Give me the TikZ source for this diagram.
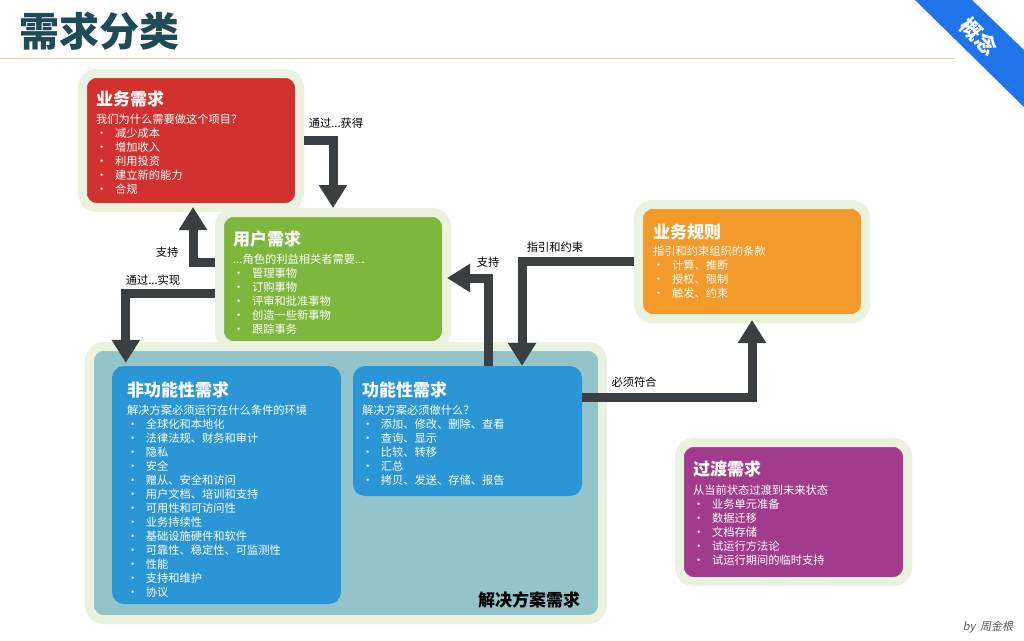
\documentclass[tikz,border=0pt]{standalone}
\usepackage{fontspec}
\setmainfont{Noto Sans CJK SC}
\newfontfamily\byfont[FakeSlant=0.2]{Noto Sans CJK SC}
\usetikzlibrary{positioning,arrows.meta}
\definecolor{halo}{HTML}{EBF2DF}
\definecolor{bizred}{HTML}{D2312F}
\definecolor{usergreen}{HTML}{7DB83C}
\definecolor{ruleorange}{HTML}{F39A2B}
\definecolor{transpurple}{HTML}{A33B8C}
\definecolor{solteal}{HTML}{93C3CB}
\definecolor{reqblue}{HTML}{2B96D5}
\definecolor{arrowgray}{HTML}{3C3F42}
\definecolor{headteal}{HTML}{1F4B58}
\definecolor{ruleline}{HTML}{D8D5A6}
\definecolor{ribbon}{HTML}{1E74E8}
\newcommand{\itm}{\makebox[19pt][l]{\textbullet}}
\tikzset{
card/.style={rounded corners=14pt,draw=halo,line width=9pt},
req/.style={rounded corners=12pt,fill=reqblue},
ttl/.style={inner sep=0pt,text=white,font=\fontsize{17}{17}\selectfont\bfseries},
txt/.style={inner sep=0pt,text=white,align=left,font=\fontsize{11.25}{14}\selectfont},
lbl/.style={inner sep=0pt,font=\fontsize{11.25}{14}\selectfont},
flow/.style={draw=arrowgray,line width=9pt,-{Triangle[width=27pt,length=23pt]}}
}
\begin{document}
\begin{tikzpicture}[x=1pt,y=-1pt]
\useasboundingbox[fill=white] (0,0) rectangle (1024,640);
\node[anchor=west,inner sep=0pt,text=headteal,font=\fontsize{40}{40}\selectfont\bfseries] (head) at (19,31) {需求分类};
\draw[ruleline,line width=1pt] (0,58) -- (955,58);
\fill[ribbon] (915,0) -- (972,0) -- (1024,50) -- (1024,107) -- cycle;
\node[inner sep=0pt,rotate=-45,text=white,font=\fontsize{21}{21}\selectfont\bfseries] (tag) at (979,37) {概念};
\node[card,fill=solteal,minimum width=513pt,minimum height=273pt] (sol) at (346,483) {};
\node[card,fill=bizred,minimum width=217pt,minimum height=134pt] (biz) at (191,140.5) {};
\node[card,fill=usergreen,minimum width=227pt,minimum height=133pt] (user) at (333,279) {};
\node[card,fill=ruleorange,minimum width=227pt,minimum height=114pt] (rule) at (752,261.5) {};
\node[card,fill=transpurple,minimum width=228pt,minimum height=139pt] (trans) at (793.5,512) {};
\node[req,minimum width=229pt,minimum height=238pt] (nonfunc) at (226.5,485) {};
\node[req,minimum width=229pt,minimum height=130pt] (func) at (467.5,431) {};
\node[ttl,below right=22pt and 18pt of biz.north west] (bizttl) {业务需求};
\node[txt,below right=6pt and 0pt of bizttl.south west] (biztxt) {我们为什么需要做这个项目？\\\itm 减少成本\\\itm 增加收入\\\itm 利用投资\\\itm 建立新的能力\\\itm 合规};
\node[ttl,below right=23pt and 18pt of user.north west] (userttl) {用户需求};
\node[txt,below right=6pt and 0pt of userttl.south west] (usertxt) {...角色的利益相关者需要...\\\itm 管理事物\\\itm 订购事物\\\itm 评审和批准事物\\\itm 创造一些新事物\\\itm 跟踪事务};
\node[ttl,below right=24pt and 19pt of rule.north west] (rulettl) {业务规则};
\node[txt,below right=5pt and 0pt of rulettl.south west] (ruletxt) {指引和约束组织的条款\\\itm 计算、推断\\\itm 授权、限制\\\itm 触发、约束};
\node[ttl,below right=23pt and 18pt of trans.north west] (transttl) {过渡需求};
\node[txt,below right=7pt and 0pt of transttl.south west] (transtxt) {从当前状态过渡到未来状态\\\itm 业务单元准备\\\itm 数据迁移\\\itm 文档存储\\\itm 试运行方法论\\\itm 试运行期间的临时支持};
\node[ttl,below right=16pt and 15pt of nonfunc.north west] (nonfuncttl) {非功能性需求};
\node[txt,below right=6pt and 0pt of nonfuncttl.south west] (nonfunctxt) {解决方案必须运行在什么条件的环境\\\itm 全球化和本地化\\\itm 法律法规、财务和审计\\\itm 隐私\\\itm 安全\\\itm 赠从、安全和访问\\\itm 用户文档、培训和支持\\\itm 可用性和可访问性\\\itm 业务持续性\\\itm 基础设施硬件和软件\\\itm 可靠性、稳定性、可监测性\\\itm 性能\\\itm 支持和维护\\\itm 协议};
\node[ttl,below right=16pt and 9pt of func.north west] (functtl) {功能性需求};
\node[txt,below right=6pt and 0pt of functtl.south west] (functxt) {解决方案必须做什么？\\\itm 添加、修改、删除、查看\\\itm 查询、显示\\\itm 比较、转移\\\itm 汇总\\\itm 拷贝、发送、存储、报告};
\node[inner sep=0pt,font=\fontsize{17}{17}\selectfont\bfseries] (solttl) at (529,600) {解决方案需求};
\draw[flow] (biz.east) -| (user.north);
\draw[flow] ([yshift=17pt]user.west) -| ([xshift=2pt,yshift=5pt]biz.south);
\draw[flow] ([yshift=-14pt]user.west) -| ([xshift=14pt,yshift=3pt]nonfunc.north west);
\draw[flow] ([xshift=20.5pt]func.north) |- ([xshift=-4pt,yshift=1pt]user.east);
\draw[flow] (rule.west) -| ([xshift=54.5pt]func.north);
\draw[flow] ([yshift=33.5pt]func.east) -| ([yshift=3pt]rule.south);
\node[lbl] (getlbl) at (336,123) {通过...获得};
\node[lbl] (uplbl) at (167,252) {支持};
\node[lbl] (reallbl) at (153,280) {通过...实现};
\node[lbl] (funclbl) at (488,262) {支持};
\node[lbl] (guidelbl) at (555,247) {指引和约束};
\node[lbl] (conflbl) at (634,382) {必须符合};
\node[inner sep=0pt,text=black!65,font=\fontsize{11}{11}\selectfont\byfont] (by) at (988,627) {by\ \ 周金根};
\end{tikzpicture}
\end{document}
